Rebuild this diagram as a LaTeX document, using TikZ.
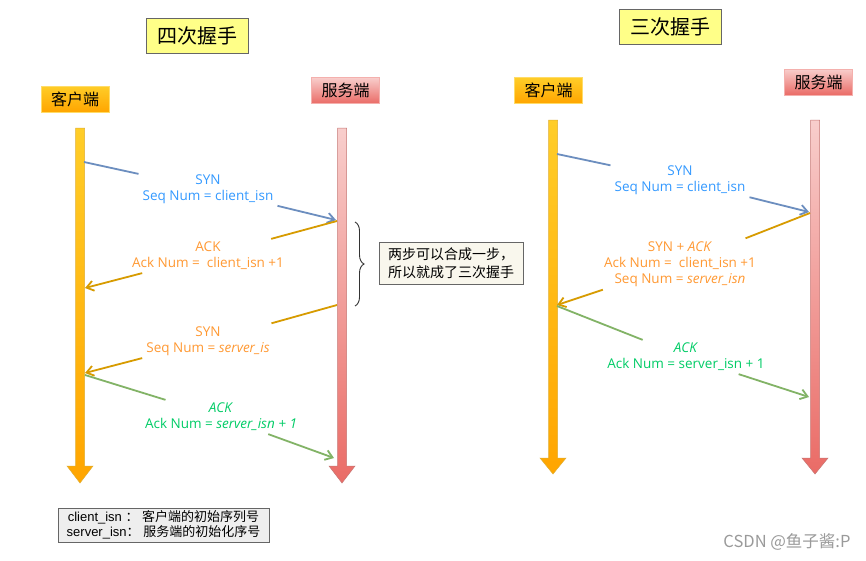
\documentclass[tikz,border=0pt]{standalone}
\usepackage{fontspec}
\setmainfont{Liberation Sans}
\newfontfamily\cjk{Noto Sans CJK SC}
\newfontfamily\msgfont{Open Sans}
\usepackage{tikz}
\usetikzlibrary{arrows.meta,calc,decorations.pathreplacing}
\usepackage{xcolor}
\definecolor{TitleYellow}{HTML}{FFFF88}
\definecolor{BoxGray}{HTML}{666666}
\definecolor{ClientTop}{HTML}{FFCD28}
\definecolor{ClientBottom}{HTML}{FFA500}
\definecolor{ClientStroke}{HTML}{D79B00}
\definecolor{ServerTop}{HTML}{F8CECC}
\definecolor{ServerBottom}{HTML}{EA6B66}
\definecolor{ServerStroke}{HTML}{B85450}
\definecolor{LineBlue}{HTML}{6C8EBF}
\definecolor{LineOrange}{HTML}{D79B00}
\definecolor{LineGreen}{HTML}{82B366}
\definecolor{TextBlue}{HTML}{3399FF}
\definecolor{TextOrange}{HTML}{FF9933}
\definecolor{TextGreen}{HTML}{00CC66}
\definecolor{NoteFill}{HTML}{F9F7ED}
\definecolor{LegendFill}{HTML}{EEEEEE}
\definecolor{MarkGray}{HTML}{9A9A9A}

\begin{document}
\begin{tikzpicture}[x=1pt,y=-1pt,
    titlebox/.style={draw=BoxGray, line width=0.8pt, fill=TitleYellow, minimum width=102pt, minimum height=35pt, font=\cjk\fontsize{20}{24}\selectfont},
    clientbox/.style={draw=ClientTop!70!white, top color=ClientTop, bottom color=ClientBottom, minimum width=68pt, minimum height=26pt, inner sep=0pt, font=\cjk\fontsize{16}{18}\selectfont},
    serverbox/.style={draw=ServerTop!70!ServerBottom, top color=ServerTop, bottom color=ServerBottom, minimum width=68pt, minimum height=26pt, inner sep=0pt, font=\cjk\fontsize{16}{18}\selectfont},
    msglabel/.style={inner xsep=4pt, inner ysep=3pt, align=center, font=\msgfont\fontsize{13.5}{16}\selectfont},
    msgline/.style={line width=1.8pt},
    msgtip/.style={-{Straight Barb[length=7pt,width=10pt]}}]
    \useasboundingbox[fill=white] (0,0) rectangle (866,560);

    % titles and ends
    \node[titlebox] (four) at (197,35.5) {四次握手};
    \node[titlebox] (three) at (670,27) {三次握手};
    \node[clientbox] (fclient) at (75,99) {客户端};
    \node[serverbox] (fserver) at (345.5,90.5) {服务端};
    \node[clientbox] (tclient) at (548.5,90.5) {客户端};
    \node[serverbox] (tserver) at (818.5,82) {服务端};

    % lifelines
    \foreach \cx/\ytop/\yhead/\ytip/\ca/\cb/\cs in {80/128/466/483/ClientTop/ClientBottom/ClientStroke,
        342/128/466/483/ServerTop/ServerBottom/ServerStroke,
        553/120/458/474/ClientTop/ClientBottom/ClientStroke,
        815/120/458/474/ServerTop/ServerBottom/ServerStroke}
        \shade[top color=\ca, bottom color=\cb, draw=\cs!80!white, line width=0.5pt]
            (\cx-4.5,\ytop) -- (\cx+4.5,\ytop) -- (\cx+4.5,\yhead) -- (\cx+13,\yhead)
            -- (\cx,\ytip) -- (\cx-13,\yhead) -- (\cx-4.5,\yhead) -- cycle;

    % four-way handshake
    \coordinate (FC1) at (84,162);  \coordinate (FS1) at (336,220);
    \coordinate (FS2) at (337,221); \coordinate (FC2) at (85,288);
    \coordinate (FS3) at (337,305); \coordinate (FC3) at (85,373);
    \coordinate (FC4) at (85,375);  \coordinate (FS4) at (334,458);

    \node[msglabel, text=TextBlue] (fsyn) at (208,189) {SYN\\Seq Num = client\_isn};
    \node[msglabel, text=TextOrange] (fack) at (208,256) {ACK\\Ack Num = \ client\_isn +1};
    \node[msglabel, text=TextOrange] (fsynb) at (208,341) {SYN\\Seq Num = \textit{server\_is}};
    \node[msglabel, text=TextGreen] (fackb) at (221,417) {\textit{ACK}\\Ack Num = \textit{server\_isn + 1}};

    \draw[msgline, LineBlue] (FC1) -- (fsyn);
    \draw[msgline, msgtip, LineBlue] (fsyn) -- (FS1);
    \draw[msgline, LineOrange] (FS2) -- (fack);
    \draw[msgline, msgtip, LineOrange] (fack) -- (FC2);
    \draw[msgline, LineOrange] (FS3) -- (fsynb);
    \draw[msgline, msgtip, LineOrange] (fsynb) -- (FC3);
    \draw[msgline, LineGreen] (FC4) -- (fackb);
    \draw[msgline, msgtip, LineGreen] (fackb) -- (FS4);

    \coordinate (BT) at (355,222);
    \coordinate (BB) at (355,306);
    \draw[black!80, line width=0.9pt, decorate, decoration={brace, amplitude=9pt}] (BT) -- (BB);
    \node[draw=BoxGray, fill=NoteFill, minimum width=144pt, minimum height=42pt, align=left,
        font=\cjk\fontsize{14}{18}\selectfont] (merge) at (451,263) {两步可以合成一步，\\所以就成了三次握手};

    \node[draw=BoxGray, fill=LegendFill, minimum width=211pt, minimum height=34pt, inner sep=1pt, align=center,
        font=\fontsize{13}{15.5}\selectfont] (legend) at (163.5,525)
        {client\_isn {\cjk ：}\ {\cjk 客户端的初始序列号}\\server\_isn{\cjk ：}\ {\cjk 服务端的初始化序号}};

    % three-way handshake
    \coordinate (TC1) at (557,154); \coordinate (TS1) at (809,212);
    \coordinate (TS2) at (810,213); \coordinate (TC2) at (557,305);
    \coordinate (TC3) at (557,306); \coordinate (TS3) at (809,397);

    \node[msglabel, text=TextBlue] (tsyn) at (680,180) {SYN\\Seq Num = client\_isn};
    \node[msglabel, text=TextOrange] (tsynack) at (680,264) {SYN + \textit{ACK}\\Ack Num = \ client\_isn +1\\Seq Num = \textit{server\_isn}};
    \node[msglabel, text=TextGreen] (tack) at (686,357) {\textit{ACK}\\Ack Num = server\_isn + 1};

    \draw[msgline, LineBlue] (TC1) -- (tsyn);
    \draw[msgline, msgtip, LineBlue] (tsyn) -- (TS1);
    \draw[msgline, LineOrange] (TS2) -- (tsynack);
    \draw[msgline, msgtip, LineOrange] (tsynack) -- (TC2);
    \draw[msgline, LineGreen] (TC3) -- (tack);
    \draw[msgline, msgtip, LineGreen] (tack) -- (TS3);

    \node[text=MarkGray, font=\cjk\fontsize{16.5}{18}\selectfont] (mark) at (787,542) {CSDN @鱼子酱:P};
\end{tikzpicture}
\end{document}
